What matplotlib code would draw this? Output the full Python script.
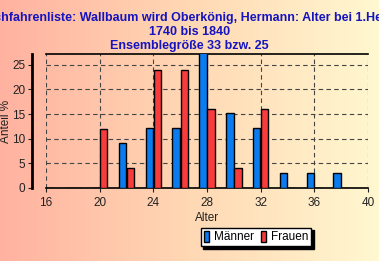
import numpy as np
import matplotlib
matplotlib.use('Agg')
import matplotlib.pyplot as plt
from matplotlib.colors import LinearSegmentedColormap

plt.rcParams['font.family'] = ['Liberation Sans', 'DejaVu Sans']

alter = [16, 18, 20, 22, 24, 26, 28, 30, 32, 34, 36, 38]
maenner = [0, 0, 0, 9.1, 12.1, 12.1, 30.3, 15.2, 12.1, 3.0, 3.0, 3.0]
frauen = [0, 0, 12, 4, 24, 24, 16, 4, 16, 0, 0, 0]

titel = ("Nachfahrenliste: Wallbaum wird Oberkönig, Hermann: Alter bei 1.Heirat\n"
         "1740 bis 1840\nEnsemblegröße 33 bzw. 25")

blau = '#0a7cf0'
rot = '#f83c3c'

fig = plt.figure(figsize=(3.79, 2.61), dpi=100)

# background gradient salmon -> light yellow
bg = fig.add_axes([0, 0, 1, 1], zorder=-1)
cmap = LinearSegmentedColormap.from_list('bg', ['#ffb2a0', '#ffd8b4', '#fff8d0'])
bg.imshow(np.linspace(0, 1, 256).reshape(1, -1), aspect='auto', cmap=cmap,
          extent=[0, 1, 0, 1])
bg.axis('off')

ax = fig.add_axes([0.1214, 0.2797, 0.8496, 0.5133])
ax.patch.set_alpha(0)

x = np.array(alter)
ax.bar(x - 0.3, maenner, width=0.55, color=blau, edgecolor='black', linewidth=1,
       label='Männer', zorder=3)
ax.bar(x + 0.3, frauen, width=0.55, color=rot, edgecolor='black', linewidth=1,
       label='Frauen', zorder=3)

ax.set_xlim(16, 40)
ax.set_ylim(0, 27.2)
ax.set_xticks(range(16, 41, 4))
ax.set_yticks(range(0, 26, 5))
ax.grid(True, color='#444444', linestyle=(0, (4, 3)), linewidth=0.8, zorder=1)

ax.spines['left'].set_position(('outward', 10))
ax.spines['left'].set_linewidth(2)
ax.spines['right'].set_visible(False)
ax.spines['top'].set_linewidth(1.2)
ax.spines['bottom'].set_linewidth(1.2)
ax.tick_params(labelsize=8.5, colors='#222222', length=3)
ax.tick_params(axis='y', pad=2)

ax.set_xlabel('Alter', fontsize=8.5, color='#222222', labelpad=2)
ax.set_ylabel('Anteil %', fontsize=8.5, color='#222222')
ax.yaxis.set_label_coords(-0.105, 0.5)

fig.text(0.5, 0.955, titel, ha='center', va='top', fontsize=9,
         fontweight='bold', color='#1414c0', linespacing=1.25)

leg = ax.legend(loc='center', bbox_to_anchor=(0.675, 0.092),
                bbox_transform=fig.transFigure, ncol=2, fontsize=8.5,
                handlelength=0.45, handleheight=1.1, handletextpad=0.4,
                columnspacing=0.6, borderpad=0.25, fancybox=False,
                framealpha=1, edgecolor='black',
                shadow={'color': 'black', 'alpha': 1})
leg.get_frame().set_linewidth(1)

fig.savefig('out.png', dpi=100)
